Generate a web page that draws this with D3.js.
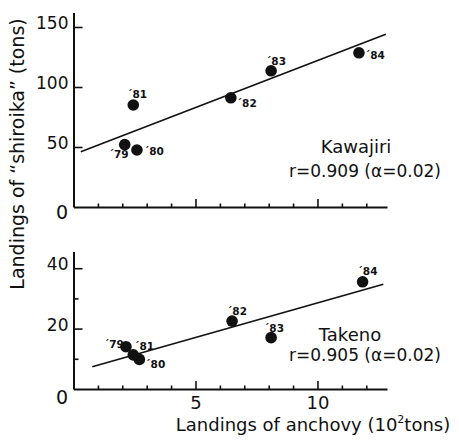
<!DOCTYPE html>
<html>
<head>
<meta charset="utf-8">
<script src="https://cdn.jsdelivr.net/npm/d3@7"></script>
<style>
  body { margin: 0; background: #fff; }
  text { font-family: "DejaVu Sans", Lato, sans-serif; fill: #111; }
</style>
</head>
<body>
<div id="chart"></div>
<script>
// data (anchovy in 10^2 tons, shiroika in tons)
var years = ["79", "80", "81", "82", "83", "84"];
var kawajiriX = [2.1, 2.6, 2.45, 6.45, 8.1, 11.7];
var kawajiriY = [52, 47.5, 85, 91, 113.5, 128.5];
var takenoX = [2.15, 2.7, 2.45, 6.5, 8.1, 11.85];
var takenoY = [14, 9.8, 11.3, 22.5, 17, 35.5];
var fitRange = [0.3, 12.8];
var kawajiriFit = [43.7, 7.84];   // intercept, slope
var takenoFit = [5.6, 2.29];
var takenoFitRange = [0.77, 12.7];
var xTicks = d3.range(1, 13);
var xMajor = [5, 10];
var xLabels = [5, 10];
var kawajiriYTicks = [50, 100, 150];
var takenoYTicks = [10, 20, 30, 40];
var takenoYMajor = [20, 40];

// label offsets for the year tags (dx, dy from the dot)
var kawLabelOff = [[-16, 13], [7, 5], [-6, -7], [6, 9], [-5, -6], [6, 6]];
var takLabelOff = [[-22, 1], [6, 9], [1, -5], [-5, -6], [-7, -6], [-5, -7]];

var width = 459, height = 441;

var svg = d3.select("#chart")
    .append("svg")
        .attr("width", width)
        .attr("height", height);

var x = d3.scaleLinear().domain([0, 12.85]).range([73.5, 387]);

function panel(opts) {
    var y = d3.scaleLinear().domain([0, opts.yMax]).range([opts.y0, opts.y0 - opts.yMax * opts.pxPerUnit]);
    var g = svg.append("g");

    // x axis with inward ticks
    var xa = g.append("g")
        .attr("transform", "translate(0," + opts.y0 + ")")
        .call(d3.axisBottom(x).tickValues(xTicks).tickSizeOuter(0).tickSizeInner(-3.5).tickFormat(""));
    xa.selectAll(".tick line")
        .attr("y2", d => xMajor.includes(d) ? -8 : -3.5);
    if (opts.showXLabels) {
        xa.selectAll(".tick text")
            .text(d => xLabels.includes(d) ? d : "")
            .attr("y", 5).attr("dy", "0.85em")
            .attr("font-size", 18).attr("fill", "#111");
    }

    // y axis with inward ticks, labels sitting on the tick
    var ya = g.append("g")
        .attr("transform", "translate(73.5,0)")
        .call(d3.axisLeft(y).tickValues(opts.yTicks).tickSizeOuter(0).tickSizeInner(-9).tickPadding(5));
    ya.selectAll(".tick line")
        .attr("x2", d => opts.yMajor.includes(d) ? 9 : 5);
    ya.selectAll(".tick text")
        .text(d => opts.yMajor.includes(d) ? d : "")
        .attr("dy", "0.1em")
        .attr("font-size", 17).attr("fill", "#111");
    g.selectAll(".domain").attr("stroke", "#111").attr("stroke-width", 2);
    g.selectAll(".tick line").attr("stroke", "#111").attr("stroke-width", 1.6);

    // corner zero
    g.append("text")
        .attr("x", 68).attr("y", opts.y0 + opts.zeroDy)
        .attr("text-anchor", "end")
        .attr("font-size", 19)
        .text("0");

    // regression line
    g.append("line")
        .attr("x1", x(opts.fitRange[0])).attr("y1", y(opts.fit[0] + opts.fit[1] * opts.fitRange[0]))
        .attr("x2", x(opts.fitRange[1])).attr("y2", y(opts.fit[0] + opts.fit[1] * opts.fitRange[1]))
        .attr("stroke", "#111").attr("stroke-width", 1.6);

    // dots
    g.selectAll("circle")
        .data(years)
        .join("circle")
            .attr("cx", (d, i) => x(opts.xs[i]))
            .attr("cy", (d, i) => y(opts.ys[i]))
            .attr("r", 5.8)
            .attr("fill", "#111");

    g.selectAll("text.yr")
        .data(years)
        .join("text")
            .attr("class", "yr")
            .attr("x", (d, i) => x(opts.xs[i]) + opts.off[i][0])
            .attr("y", (d, i) => y(opts.ys[i]) + opts.off[i][1])
            .attr("font-size", 10.5)
            .attr("font-weight", "bold")
            .text(d => "\u02CA" + d);

    // site name and correlation
    g.append("text")
        .attr("x", opts.nameX).attr("y", opts.nameY)
        .attr("text-anchor", "middle")
        .attr("font-size", 18)
        .text(opts.name);
    g.append("text")
        .attr("x", 365).attr("y", opts.nameY + opts.rDy)
        .attr("text-anchor", "middle")
        .attr("font-size", 17)
        .text(opts.rText);
}

panel({
    y0: 207, pxPerUnit: 1.2, yMax: 162,
    yTicks: kawajiriYTicks, yMajor: kawajiriYTicks,
    xs: kawajiriX, ys: kawajiriY, off: kawLabelOff,
    fit: kawajiriFit, fitRange: fitRange,
    showXLabels: false, zeroDy: 12,
    name: "Kawajiri", nameX: 356, nameY: 153, rDy: 24,
    rText: "r=0.909 (\u03B1=0.02)"
});

panel({
    y0: 389, pxPerUnit: 3.02, yMax: 45.5,
    yTicks: takenoYTicks, yMajor: takenoYMajor,
    xs: takenoX, ys: takenoY, off: takLabelOff,
    fit: takenoFit, fitRange: takenoFitRange,
    showXLabels: true, zeroDy: 15,
    name: "Takeno", nameX: 350, nameY: 341, rDy: 20,
    rText: "r=0.905 (\u03B1=0.02)"
});

// axis titles
svg.append("text")
    .attr("transform", "translate(24,154) rotate(-90)")
    .attr("text-anchor", "middle")
    .attr("font-size", 19)
    .text("Landings of \u201Cshiroika\u201D (tons)");

var xt = svg.append("text")
    .attr("x", 313).attr("y", 431)
    .attr("text-anchor", "middle")
    .attr("font-size", 18);
xt.append("tspan").text("Landings of anchovy (10");
xt.append("tspan").attr("dy", -8).attr("font-size", 11).text("2");
xt.append("tspan").attr("dy", 8).text("tons)");
</script>
</body>
</html>
